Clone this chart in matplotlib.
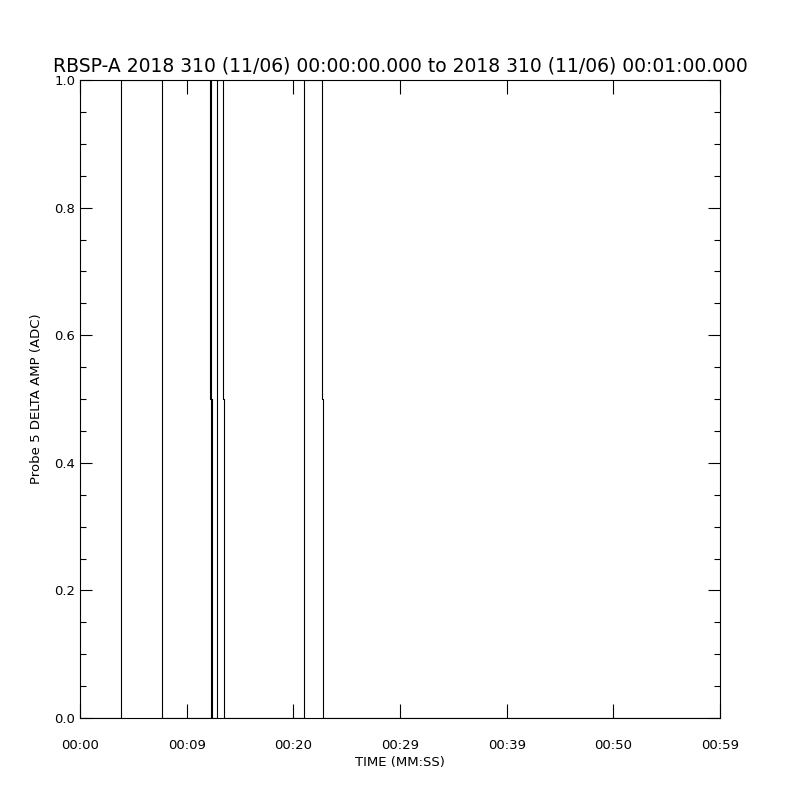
import numpy as np
import matplotlib.pyplot as plt
from matplotlib.ticker import MultipleLocator, FixedLocator, FormatStrFormatter

# seconds after 00:00:00, amplitude (ADC); repeated times give the sharp jumps
time_s = [0.0, 3.84, 3.84, 7.69, 7.69,
          12.28, 12.28, 12.19, 12.19, 12.28, 12.28, 12.38, 12.38,
          12.84, 12.84, 13.41, 13.41, 13.50, 13.50,
          21.00, 21.00, 22.69, 22.69, 22.78, 22.78, 60.0]
amp = [0.0, 0.0, 1.0, 1.0, 0.0,
       0.0, 0.5, 0.5, 1.0, 1.0, 0.5, 0.5, 0.0,
       0.0, 1.0, 1.0, 0.5, 0.5, 0.0,
       0.0, 1.0, 1.0, 0.5, 0.5, 0.0, 0.0]

xtick_pos = [0, 10, 20, 30, 40, 50, 60]
xtick_lab = ['00:00', '00:09', '00:20', '00:29', '00:39', '00:50', '00:59']

title = 'RBSP-A 2018 310 (11/06) 00:00:00.000 to 2018 310 (11/06) 00:01:00.000'

fig = plt.figure(figsize=(8, 8), dpi=100)
ax = fig.add_axes([0.1, 0.1025, 0.8, 0.7975])

ax.plot(time_s, amp, color='black', lw=0.8)

ax.set_xlim(0, 60)
ax.set_ylim(0, 1)

ax.xaxis.set_major_locator(FixedLocator(xtick_pos))
ax.set_xticklabels(xtick_lab)
ax.yaxis.set_major_locator(MultipleLocator(0.2))
ax.yaxis.set_minor_locator(MultipleLocator(0.05))
ax.yaxis.set_major_formatter(FormatStrFormatter('%.1f'))

ax.tick_params(axis='x', which='major', direction='in', length=10, width=0.8,
               top=True, pad=15, labelsize=9.5)
ax.tick_params(axis='y', which='major', direction='in', length=8.5, width=0.8,
               right=True, pad=3.5, labelsize=9.5)
ax.tick_params(axis='y', which='minor', direction='in', length=4.5, width=0.8,
               right=True)
for s in ax.spines.values():
    s.set_linewidth(0.8)

ax.set_xlabel('TIME (MM:SS)', fontsize=9.5, labelpad=3)
ax.set_ylabel('Probe 5 DELTA AMP (ADC)', fontsize=9.5, labelpad=8)
ax.set_title(title, fontsize=13.5, pad=6)

fig.savefig('out.png', dpi=100)
